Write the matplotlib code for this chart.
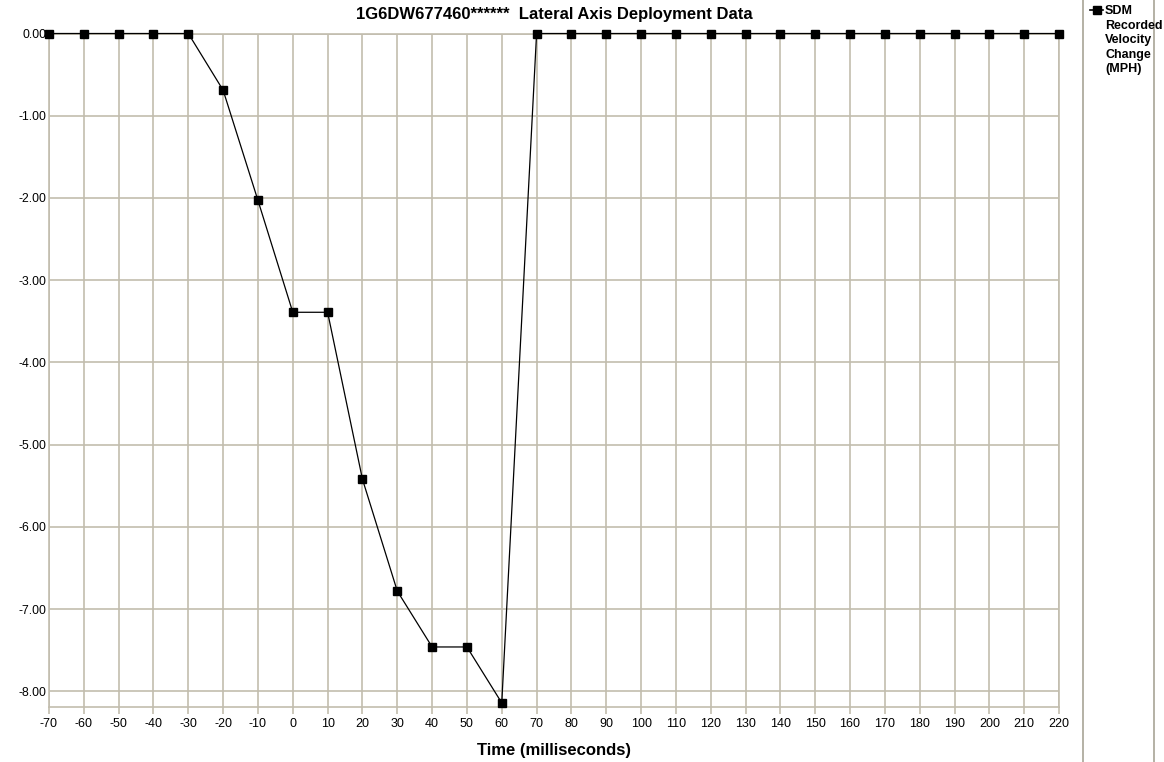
import matplotlib
matplotlib.use("Agg")
import matplotlib.pyplot as plt
from matplotlib.lines import Line2D

plt.rcParams['font.family'] = ['Liberation Sans', 'DejaVu Sans']

time_ms = [-70, -60, -50, -40, -30, -20, -10, 0, 10, 20, 30, 40, 50, 60,
           70, 80, 90, 100, 110, 120, 130, 140, 150, 160, 170, 180, 190, 200, 210, 220]
velocity_change = [0, 0, 0, 0, 0, -0.69, -2.03, -3.39, -3.39, -5.42, -6.78, -7.46, -7.46, -8.14,
                   0, 0, 0, 0, 0, 0, 0, 0, 0, 0, 0, 0, 0, 0, 0, 0]
y_ticks = [0, -1, -2, -3, -4, -5, -6, -7, -8]
title = "1G6DW677460******  Lateral Axis Deployment Data"
series_name = "SDM\nRecorded\nVelocity\nChange\n(MPH)"

W, H = 1164, 762
fig = plt.figure(figsize=(W / 100, H / 100), dpi=100)
left, right, top, bottom = 49, 1059, 33.5, 707
ax = fig.add_axes([left / W, 1 - bottom / H, (right - left) / W, (bottom - top) / H])

grid_c = '#c2bdae'
ax.set_xlim(-70, 220)
ax.set_ylim(-8.19, 0)
ax.set_xticks(time_ms)
ax.set_xticklabels([str(t) for t in time_ms])
ax.set_yticks(y_ticks)
ax.set_yticklabels([f"{v:.2f}" for v in y_ticks])
ax.grid(True, color=grid_c, linewidth=1.2)
ax.set_axisbelow(True)
for s in ax.spines.values():
    s.set_color(grid_c)
    s.set_linewidth(1.2)
ax.tick_params(axis='x', length=5, color=grid_c, width=1.2, labelsize=9, pad=3)
ax.tick_params(axis='y', length=0, labelsize=8.8, pad=2)

ax.plot(time_ms, velocity_change, color='black', linewidth=0.9, marker='s',
        markersize=5.8, markerfacecolor='black', markeredgecolor='black', clip_on=False, zorder=5)

fig.text((left + right) / 2 / W, 1 - 14 / H, title, fontsize=12, fontweight='bold',
         ha='center', va='center')
fig.text((left + right) / 2 / W, 1 - 750 / H, "Time (milliseconds)", fontsize=12,
         fontweight='bold', ha='center', va='center')

# legend panel
for xp in (1083, 1154):
    fig.add_artist(Line2D([xp / W, xp / W], [0, 1], color='#a8a496', linewidth=1.2, zorder=1))
fig.add_artist(Line2D([1090 / W, 1103 / W], [1 - 10 / H, 1 - 10 / H], color='black', linewidth=1.2))
fig.add_artist(Line2D([1096.5 / W], [1 - 10 / H], marker='s', markersize=6, color='black'))
fig.text(1105 / W, 1 - 5 / H, series_name, fontsize=9, fontweight='bold', va='top', ha='left',
         linespacing=1.28, zorder=3)

fig.savefig("out.png", dpi=100)
